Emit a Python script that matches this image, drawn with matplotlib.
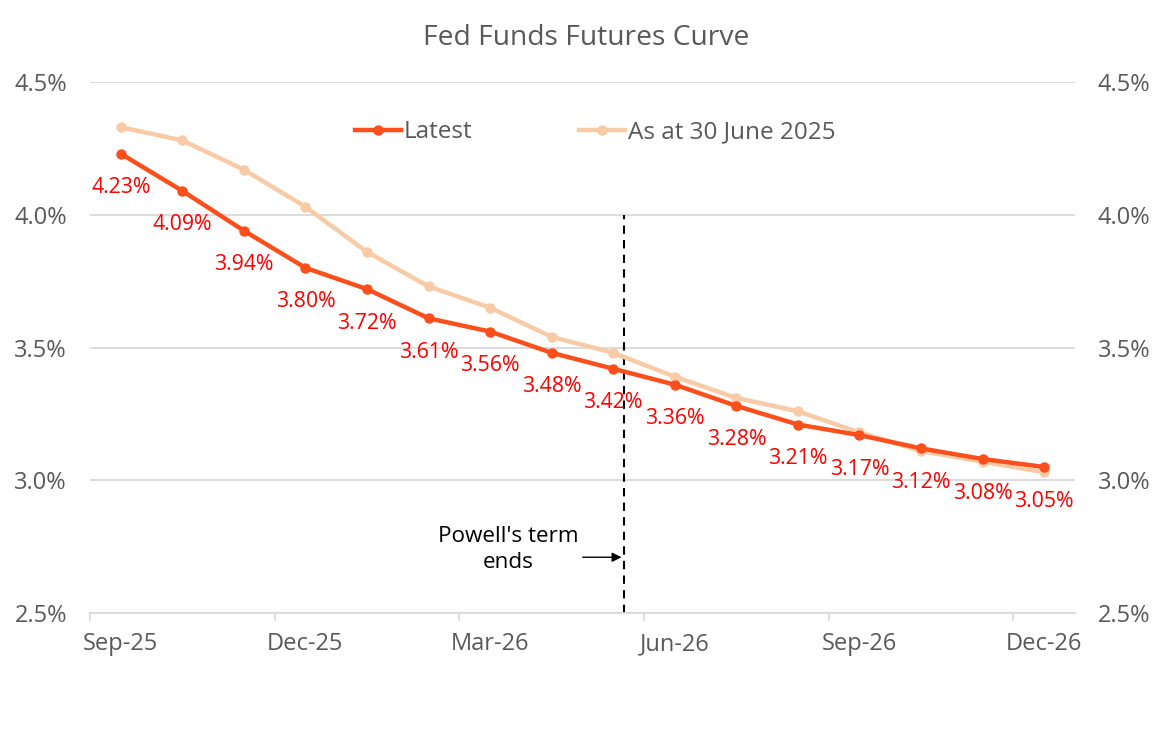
import matplotlib
matplotlib.use("Agg")
import matplotlib.pyplot as plt
from matplotlib.ticker import FuncFormatter, FixedLocator, FixedFormatter, NullFormatter

plt.rcParams['font.family'] = ['Open Sans', 'DejaVu Sans']

months = ["Sep-25", "Oct-25", "Nov-25", "Dec-25", "Jan-26", "Feb-26", "Mar-26", "Apr-26",
          "May-26", "Jun-26", "Jul-26", "Aug-26", "Sep-26", "Oct-26", "Nov-26", "Dec-26"]
latest = [4.23, 4.09, 3.94, 3.80, 3.72, 3.61, 3.56, 3.48, 3.42, 3.36, 3.28, 3.21, 3.17, 3.12, 3.08, 3.05]
june30 = [4.33, 4.28, 4.17, 4.03, 3.86, 3.73, 3.65, 3.54, 3.48, 3.39, 3.31, 3.26, 3.18, 3.11, 3.07, 3.03]
tick_labels = ["Sep-25", "Dec-25", "Mar-26", "Jun-26", "Sep-26", "Dec-26"]
powell_end = 8.68  # months after 1 Sep 2025

x = [i + 0.5 for i in range(len(months))]
tick_pos = [0, 3, 6, 9, 12, 15]
label_pos = [p + 0.5 for p in tick_pos]

fig = plt.figure(figsize=(11.67, 7.39), dpi=100)
ax = fig.add_axes([0.0771, 0.1705, 0.844, 0.7185])

c_latest = "#FC4F1B"
c_june = "#F8CBA6"
grey = "#595959"

ax.plot(x, june30, color=c_june, lw=3.2, marker='o', ms=6.5, label="As at 30 June 2025", zorder=3)
ax.plot(x, latest, color=c_latest, lw=3.2, marker='o', ms=6.5, label="Latest", zorder=4)

for xi, v in zip(x, latest):
    ax.annotate(f"{v:.2f}%", (xi, v), xytext=(0, -24.5), textcoords='offset points',
                ha='center', va='center', color='#FF0000', fontsize=15.3, zorder=5)

ax.set_xlim(0, 16)
ax.set_ylim(2.5, 4.5)
ax.set_yticks([2.5, 3.0, 3.5, 4.0, 4.5])
ax.yaxis.set_major_formatter(FuncFormatter(lambda v, p: f"{v:.1f}%"))
ax.grid(axis='y', color='#D9D9D9', lw=1.3)
ax.set_axisbelow(True)
for s in ['top', 'left', 'right']:
    ax.spines[s].set_visible(False)
ax.spines['bottom'].set_color('#D9D9D9')
ax.spines['bottom'].set_linewidth(1.3)
ax.xaxis.set_major_locator(FixedLocator(tick_pos))
ax.xaxis.set_major_formatter(NullFormatter())
ax.xaxis.set_minor_locator(FixedLocator(label_pos))
ax.xaxis.set_minor_formatter(FixedFormatter(tick_labels))
ax.tick_params(axis='x', which='major', length=6, color='#D9D9D9', width=1.2)
ax.tick_params(axis='x', which='minor', length=0, pad=14, labelsize=17, labelcolor=grey)
ax.tick_params(axis='y', length=0, pad=16.5, labelsize=17, labelcolor=grey)

ax2 = ax.twinx()
ax2.set_ylim(2.5, 4.5)
ax2.set_yticks([2.5, 3.0, 3.5, 4.0, 4.5])
ax2.yaxis.set_major_formatter(FuncFormatter(lambda v, p: f"{v:.1f}%"))
ax2.tick_params(axis='y', length=0, pad=16.5, labelsize=17, labelcolor=grey)
for s in ax2.spines.values():
    s.set_visible(False)

ax.plot([powell_end, powell_end], [2.5, 4.0], color='black', lw=1.5, ls=(0, (4, 3)), zorder=2)
ax.annotate("", xy=(powell_end, 2.71), xytext=(powell_end - 0.72, 2.71),
            arrowprops=dict(arrowstyle='-|>', color='black', lw=1.0, mutation_scale=14))
ax.text(6.8, 2.74, "Powell's term\nends", ha='center', va='center', fontsize=16.2,
        color='black', linespacing=1.3)

handles, labels = ax.get_legend_handles_labels()
ax.legend(handles[::-1], labels[::-1], loc='center', bbox_to_anchor=(0.513, 0.905), ncol=2,
          frameon=False, fontsize=17.5, labelcolor=grey, handlelength=1.9, handletextpad=0.1,
          columnspacing=4.4)

fig.suptitle("Fed Funds Futures Curve", x=0.502, y=0.968, fontsize=20.3, color=grey)

fig.savefig("out.png", dpi=100)
